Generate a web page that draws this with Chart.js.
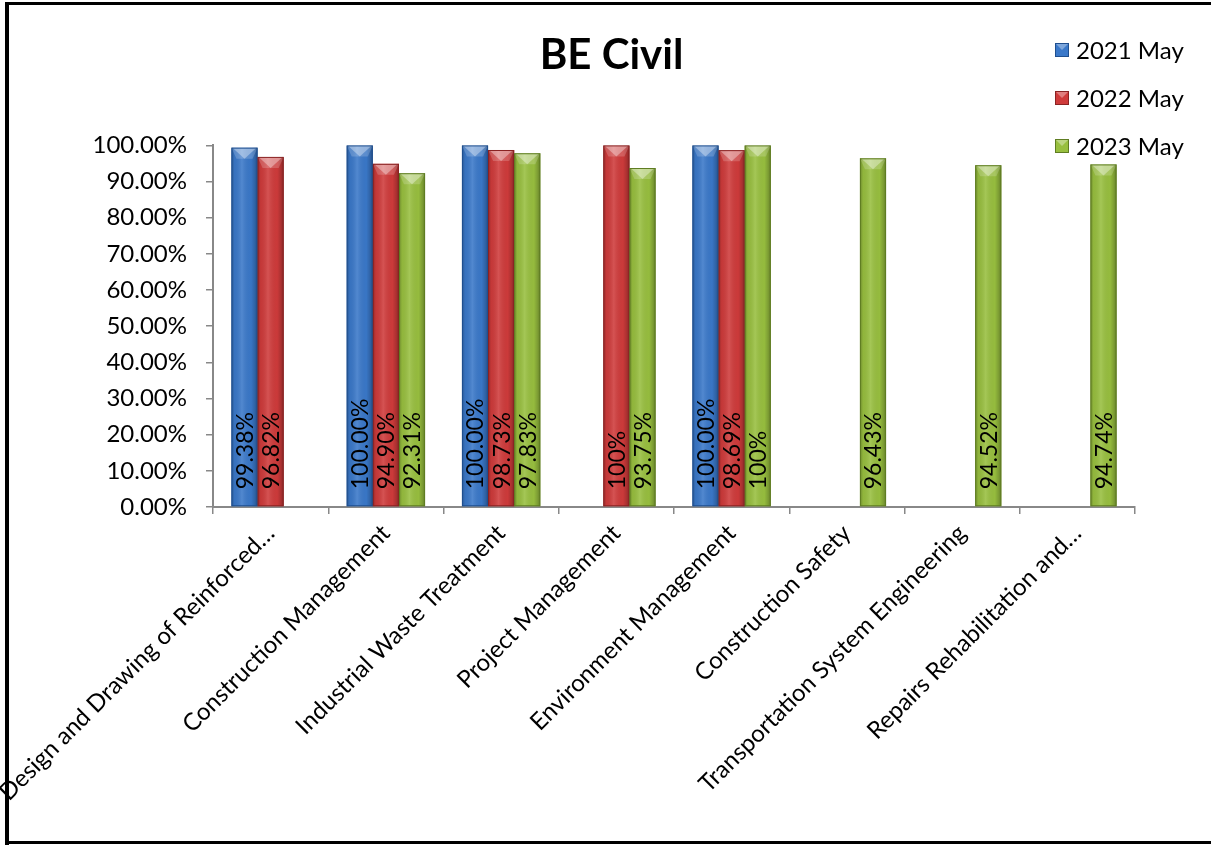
<!DOCTYPE html>
<html>
<head>
<meta charset="utf-8">
<script src="https://cdn.jsdelivr.net/npm/chart.js@4"></script>
<style>
  html, body { margin: 0; padding: 0; background: #fff; overflow: hidden; }
  #wrap { position: relative; width: 1211px; height: 845px; }
</style>
</head>
<body>
<div id="wrap"><canvas id="chart" width="1211" height="845"></canvas></div>
<script>
const categories = [
  "Design and Drawing of Reinforced…",
  "Construction Management",
  "Industrial Waste Treatment",
  "Project Management",
  "Environment Management",
  "Construction Safety",
  "Transportation System Engineering",
  "Repairs Rehabilitation and…"
];
const seriesNames = ["2021 May", "2022 May", "2023 May"];
const may2021 = [99.38, 100.00, 100.00, null, 100.00, null, null, null];
const may2022 = [96.82, 94.90, 98.73, 100, 98.69, null, null, null];
const may2023 = [null, 92.31, 97.83, 93.75, 100, 96.43, 94.52, 94.74];
// label text as printed on the bars (formats differ in the source)
const text2021 = ["99.38%", "100.00%", "100.00%", "", "100.00%", "", "", ""];
const text2022 = ["96.82%", "94.90%", "98.73%", "100%", "98.69%", "", "", ""];
const text2023 = ["", "92.31%", "97.83%", "93.75%", "100%", "96.43%", "94.52%", "94.74%"];

const baseColors = ["#3a78c9", "#cf3b3b", "#98bf3f"];
const edgeColors = ["#1f4f8f", "#8a2323", "#5f7d22"];
const FONT = "Lato, 'Open Sans', sans-serif";

const framePlugin = {
  id: "frame",
  afterDraw(chart) {
    const ctx = chart.ctx;
    ctx.save();
    ctx.fillStyle = "#000";
    ctx.fillRect(5, 2, 4, 843);
    ctx.fillRect(5, 2, 1206, 3);
    ctx.fillRect(5, 841, 1206, 3);
    ctx.restore();
  }
};

const bevelPlugin = {
  id: "bevel",
  afterDatasetsDraw(chart) {
    const ctx = chart.ctx;
    const texts = [text2021, text2022, text2023];
    chart.data.datasets.forEach((ds, d) => {
      const meta = chart.getDatasetMeta(d);
      meta.data.forEach((bar, i) => {
        if (ds.data[i] == null) return;
        const w = bar.width, l = bar.x - w / 2, r = bar.x + w / 2;
        const top = bar.y, base = bar.base;
        ctx.save();
        const g = ctx.createLinearGradient(l, 0, r, 0);
        g.addColorStop(0, "rgba(0,0,0,0.28)");
        g.addColorStop(0.12, "rgba(0,0,0,0.05)");
        g.addColorStop(0.4, "rgba(255,255,255,0.12)");
        g.addColorStop(0.75, "rgba(0,0,0,0.02)");
        g.addColorStop(0.9, "rgba(0,0,0,0.18)");
        g.addColorStop(1, "rgba(0,0,0,0.35)");
        ctx.fillStyle = g;
        ctx.fillRect(l, top, w, base - top);
        // top bevel
        const bh = Math.min(11, (base - top) / 2);
        ctx.beginPath();
        ctx.moveTo(l, top);
        ctx.lineTo(r, top);
        ctx.lineTo(r - 5, top + bh);
        ctx.lineTo(l + 5, top + bh);
        ctx.closePath();
        ctx.fillStyle = "rgba(255,255,255,0.18)";
        ctx.fill();
        ctx.beginPath();
        ctx.moveTo(l + 1, top);
        ctx.lineTo(r - 1, top);
        ctx.lineTo(bar.x, top + bh);
        ctx.closePath();
        ctx.fillStyle = "rgba(255,255,255,0.35)";
        ctx.fill();
        ctx.strokeStyle = edgeColors[d];
        ctx.lineWidth = 1;
        ctx.strokeRect(l + 0.5, top + 0.5, w - 1, base - top - 1);
        ctx.restore();

        // value label, vertical, inside base
        ctx.save();
        ctx.translate(bar.x, base - 17);
        ctx.rotate(-Math.PI / 2);
        ctx.font = "23px " + FONT;
        ctx.fillStyle = "#000";
        ctx.textAlign = "left";
        ctx.textBaseline = "middle";
        ctx.fillText(texts[d][i], 0, 1);
        ctx.restore();
      });
    });
  }
};

const legendPlugin = {
  id: "sideLegend",
  afterDraw(chart) {
    const ctx = chart.ctx;
    ctx.save();
    chart.data.datasets.forEach((ds, d) => {
      const y = 50 + d * 48;
      const x = 1055;
      ctx.fillStyle = baseColors[d];
      ctx.fillRect(x, y - 7, 14, 14);
      ctx.beginPath();
      ctx.moveTo(x, y - 7);
      ctx.lineTo(x + 14, y - 7);
      ctx.lineTo(x + 7, y);
      ctx.closePath();
      ctx.fillStyle = "rgba(255,255,255,0.35)";
      ctx.fill();
      ctx.strokeStyle = edgeColors[d];
      ctx.strokeRect(x + 0.5, y - 6.5, 13, 13);
      ctx.fillStyle = "#000";
      ctx.font = "24px " + FONT;
      ctx.textAlign = "left";
      ctx.textBaseline = "middle";
      ctx.fillText(ds.label, x + 21, y + 1);
    });
    ctx.restore();
  }
};

new Chart(document.getElementById("chart"), {
  type: "bar",
  data: {
    labels: categories,
    datasets: [
      { label: seriesNames[0], data: may2021, backgroundColor: baseColors[0] },
      { label: seriesNames[1], data: may2022, backgroundColor: baseColors[1] },
      { label: seriesNames[2], data: may2023, backgroundColor: baseColors[2] }
    ]
  },
  options: {
    responsive: false,
    animation: false,
    layout: { padding: { left: 88, right: 76, top: 0, bottom: 0 } },
    datasets: { bar: { categoryPercentage: 0.68, barPercentage: 1 } },
    plugins: {
      legend: { display: false },
      tooltip: { enabled: false },
      title: {
        display: true,
        text: "BE Civil",
        color: "#000",
        font: { family: FONT, size: 42, weight: "bold", lineHeight: 1.2 },
        padding: { top: 30, bottom: 65 }
      }
    },
    scales: {
      x: {
        grid: { display: true, drawOnChartArea: false, offset: true, tickLength: 7, color: "#888", lineWidth: 1.5 },
        border: { color: "#888", width: 2 },
        ticks: {
          color: "#000",
          font: { family: FONT, size: 24 },
          minRotation: 45,
          maxRotation: 45,
          autoSkip: false,
          padding: 5
        },
        afterFit(scale) {
          scale.height = 338;
          scale.paddingLeft = 0;
          scale.paddingRight = 0;
        }
      },
      y: {
        min: 0,
        max: 100,
        grid: { display: true, drawOnChartArea: false, tickLength: 7, color: "#888", lineWidth: 1.5 },
        border: { color: "#888", width: 2 },
        ticks: {
          stepSize: 10,
          color: "#000",
          padding: 19,
          font: { family: FONT, size: 24 },
          callback: v => v.toFixed(2) + "%"
        },
        afterFit(scale) { scale.width = 125; }
      }
    }
  },
  plugins: [bevelPlugin, legendPlugin, framePlugin]
});
</script>
</body>
</html>
